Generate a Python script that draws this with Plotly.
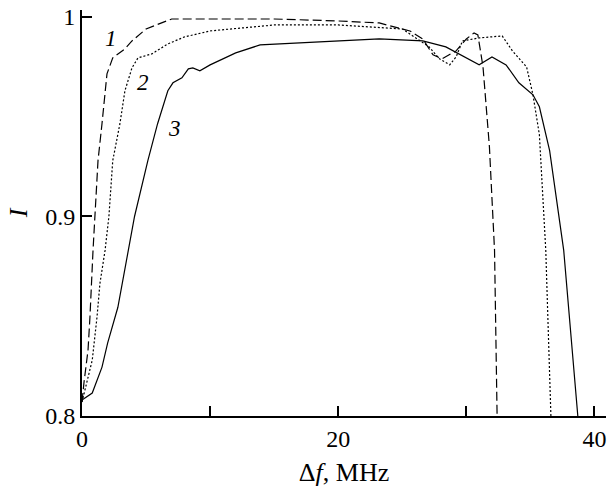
import plotly.graph_objects as go

# Kurve 1 (gestrichelt)
x1 = [0, 0.15, 0.47, 0.62, 0.86, 1.0, 1.25, 1.56, 1.95, 2.4, 2.8, 3.35, 3.9, 5.0, 7.0, 10, 15, 20,
      23.2, 25.6, 26.6, 27.4, 28.1, 29.2, 30.0, 30.6, 30.9, 31.3, 31.8, 32.2, 32.4]
i1 = [0.807, 0.8165, 0.833, 0.8495, 0.883, 0.90, 0.928, 0.9465, 0.9715, 0.9795, 0.9815, 0.984, 0.988,
      0.994, 0.999, 0.999, 0.999, 0.998, 0.997, 0.993, 0.989, 0.981, 0.979, 0.983, 0.989, 0.992,
      0.991, 0.975, 0.935, 0.883, 0.80]

# Kurve 2 (gepunktet)
x2 = [0, 0.23, 0.8, 1.17, 1.4, 1.8, 2.1, 2.4, 2.96, 3.35, 3.9, 4.37, 5.45, 6.7, 8.0, 10, 15, 20, 25,
      27.1, 27.9, 28.7, 29.2, 29.7, 31.0, 32.8, 33.6, 34.7, 35.2, 35.7, 36.2, 36.6]
i2 = [0.807, 0.813, 0.828, 0.8495, 0.8665, 0.883, 0.90, 0.928, 0.9465, 0.963, 0.9745, 0.9795, 0.9815,
      0.9865, 0.99, 0.993, 0.996, 0.996, 0.994, 0.985, 0.979, 0.976, 0.980, 0.988, 0.9895, 0.9905,
      0.983, 0.975, 0.961, 0.941, 0.883, 0.80]

# Kurve 3 (durchgezogen)
x3 = [0, 0.8, 1.56, 2.0, 2.8, 3.6, 4.1, 5.14, 5.9, 6.7, 7.1, 7.8, 8.3, 8.65, 9.2, 10, 12, 13.9, 17,
      20, 23.2, 26.6, 28.4, 31.0, 32.0, 33.1, 34.1, 35.2, 35.7, 36.5, 37.6, 38.7]
i3 = [0.808, 0.8115, 0.8245, 0.8365, 0.8545, 0.883, 0.90, 0.928, 0.9465, 0.963, 0.967, 0.9695,
      0.974, 0.9745, 0.973, 0.976, 0.982, 0.986, 0.987, 0.988, 0.989, 0.988, 0.985, 0.976, 0.980,
      0.976, 0.967, 0.961, 0.955, 0.933, 0.883, 0.80]

curve_labels = ["1", "2", "3"]
label_x = [2.3, 4.75, 7.25]
label_y = [0.989, 0.967, 0.944]

x_ticks = [0, 10, 20, 30, 40]
x_ticktext = ["0", "", "20", "", "40"]
y_ticks = [0.8, 0.9, 1.0]
y_ticktext = ["0.8", "0.9", "1"]

font = "Liberation Serif"

fig = go.Figure()
fig.add_trace(go.Scatter(x=x1, y=i1, mode="lines", line=dict(color="black", width=1.2, dash="9px,4px")))
fig.add_trace(go.Scatter(x=x2, y=i2, mode="lines", line=dict(color="black", width=1.2, dash="2px,2px")))
fig.add_trace(go.Scatter(x=x3, y=i3, mode="lines", line=dict(color="black", width=1.2)))

for t, xx, yy in zip(curve_labels, label_x, label_y):
    fig.add_annotation(x=xx, y=yy, text=f"<i>{t}</i>", showarrow=False,
                       font=dict(family=font, size=23, color="black"))

fig.update_layout(
    width=610, height=498,
    margin=dict(l=82, r=4, t=10, b=82),
    plot_bgcolor="white", paper_bgcolor="white",
    showlegend=False,
    font=dict(family=font, size=24, color="black"),
    xaxis=dict(
        range=[0, 40.9], tickvals=x_ticks, ticktext=x_ticktext,
        ticks="inside", ticklen=10, tickwidth=1.5, tickcolor="black",
        showline=True, linecolor="black", linewidth=2, showgrid=False, zeroline=False,
        automargin=False, ticklabeloverflow="allow",
        title=dict(text="Δ<i>f</i>, MHz", standoff=12, font=dict(family=font, size=26)),
    ),
    yaxis=dict(
        range=[0.8, 1.0035], tickvals=y_ticks, ticktext=y_ticktext,
        ticks="inside", ticklen=10, tickwidth=1.5, tickcolor="black",
        showline=True, linecolor="black", linewidth=2, showgrid=False, zeroline=False,
        automargin=False, ticklabeloverflow="allow",
        title=dict(text="<i>I</i>", standoff=10, font=dict(family=font, size=26)),
    ),
)

# Body-Rand entfernen, damit die Figur bei 0,0 beginnt
fig.write_html("out.html", config={"displayModeBar": False},
               post_script="document.body.style.margin='0';")
